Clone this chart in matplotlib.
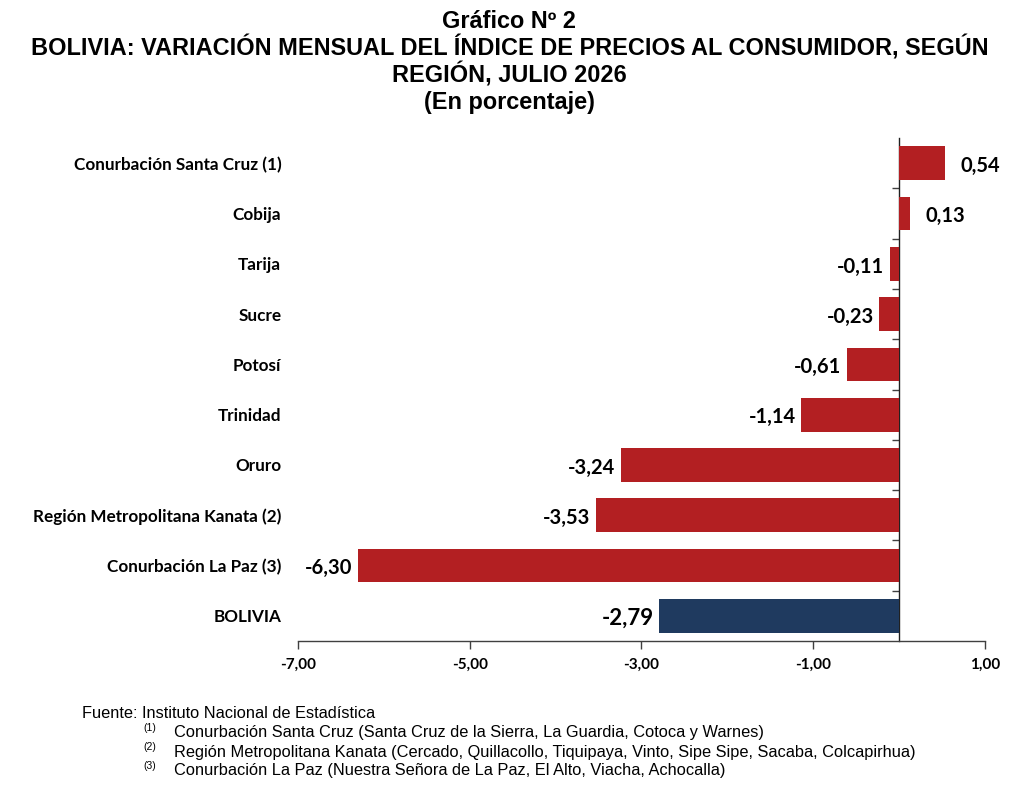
import matplotlib
matplotlib.use("Agg")
import matplotlib.pyplot as plt
from matplotlib import font_manager

names = {f.name for f in font_manager.fontManager.ttflist}
narrow = "Liberation Sans Narrow" if "Liberation Sans Narrow" in names else "Liberation Sans"
label_font = "Lato"

categories = ["Conurbación Santa Cruz (1)", "Cobija", "Tarija", "Sucre", "Potosí",
              "Trinidad", "Oruro", "Región Metropolitana Kanata (2)",
              "Conurbación La Paz (3)", "BOLIVIA"]
values = [0.54, 0.13, -0.11, -0.23, -0.61, -1.14, -3.24, -3.53, -6.30, -2.79]
colors = ["#B31F22"] * 9 + ["#1F3A5F"]
xticks = [-7, -5, -3, -1, 1]
xtick_labels = ["-7,00", "-5,00", "-3,00", "-1,00", "1,00"]

fig = plt.figure(figsize=(10.19, 7.95), dpi=100)
ax = fig.add_axes([0.2924, 0.1937, 0.6742, 0.6327])

y = list(range(len(categories)))
ax.barh(y, values, height=0.67, color=colors, edgecolor="none")
ax.set_xlim(-7, 1)
ax.set_ylim(len(categories) - 0.5, -0.5)

for s in ["top", "right", "left"]:
    ax.spines[s].set_visible(False)
ax.spines["bottom"].set_color("#404040")
ax.spines["bottom"].set_linewidth(1.0)

ax.set_xticks(xticks)
ax.set_xticklabels(xtick_labels, fontfamily=label_font, fontweight="bold", fontsize=11)
ax.tick_params(axis="x", direction="out", length=6, width=1, color="#404040", pad=6)

ax.set_yticks(y)
ax.set_yticklabels(categories, fontfamily=label_font, fontweight="bold", fontsize=12.3)
ax.tick_params(axis="y", length=0, pad=12)

# zero axis line with category separator ticks
sec = ax.secondary_yaxis(7 / 8)
sec.set_yticks([i + 0.5 for i in range(len(categories) - 1)])
sec.set_yticklabels([])
sec.tick_params(axis="y", direction="in", length=5, width=1, color="#404040")
for sp in sec.spines.values():
    sp.set_color("#202020")
    sp.set_linewidth(1.0)

for i, v in enumerate(values):
    txt = f"{v:.2f}".replace(".", ",")
    size = 16 if categories[i] == "BOLIVIA" else 14.5
    if v >= 0:
        ax.annotate(txt, (v, i), xytext=(11, -2), textcoords="offset points",
                    ha="left", va="center", fontfamily=label_font, fontweight="bold",
                    fontsize=size)
    else:
        ax.annotate(txt, (v, i), xytext=(-4, -2), textcoords="offset points",
                    ha="right", va="center", fontfamily=label_font, fontweight="bold",
                    fontsize=size)

title_lines = ["Gráfico Nº 2",
               "BOLIVIA: VARIACIÓN MENSUAL DEL ÍNDICE DE PRECIOS AL CONSUMIDOR, SEGÚN",
               "REGIÓN, JULIO 2026",
               "(En porcentaje)"]
ty = [21, 48, 75, 102]
for t, yy in zip(title_lines, ty):
    fig.text(0.5, 1 - yy / 795, t, ha="center", va="center", fontfamily="Liberation Sans",
             fontweight="bold", fontsize=16.9)

fig.text(82 / 1019, 1 - 714 / 795, "Fuente: Instituto Nacional de Estadística",
         ha="left", va="center", fontfamily=narrow, fontsize=11.8)
notes = ["Conurbación Santa Cruz (Santa Cruz de la Sierra, La Guardia, Cotoca y Warnes)",
         "Región Metropolitana Kanata (Cercado, Quillacollo, Tiquipaya, Vinto, Sipe Sipe, Sacaba, Colcapirhua)",
         "Conurbación La Paz (Nuestra Señora de La Paz, El Alto, Viacha, Achocalla)"]
for k, (n, yy) in enumerate(zip(notes, [733, 752, 771])):
    fig.text(143 / 1019, 1 - (yy - 5) / 795, f"({k + 1})", ha="left", va="center",
             fontfamily=narrow, fontsize=7.5)
    fig.text(174 / 1019, 1 - yy / 795, n, ha="left", va="center",
             fontfamily=narrow, fontsize=11.8)

fig.savefig("out.png", dpi=100, facecolor="white")
